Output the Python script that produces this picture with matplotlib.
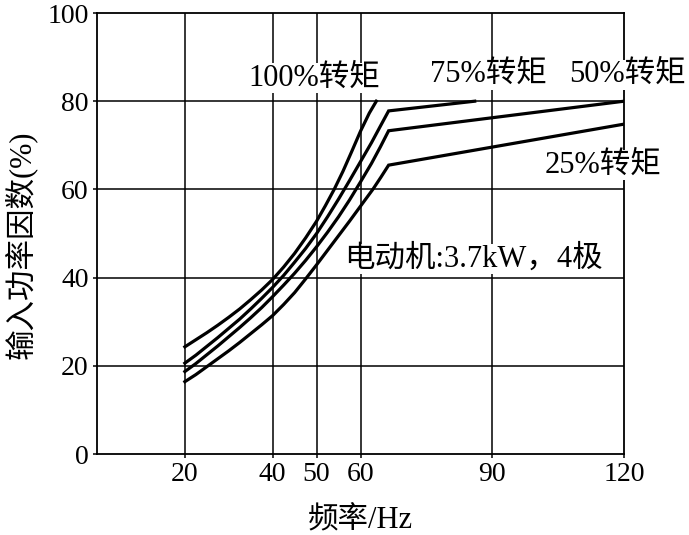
import matplotlib
matplotlib.use('Agg')
import matplotlib.pyplot as plt

plt.rcParams['font.family'] = ['Liberation Serif', 'Noto Sans CJK SC']
plt.rcParams['axes.unicode_minus'] = False

# data
freq_100 = [20, 22.5, 25, 27.5, 30, 32.5, 35, 37.5, 40, 42.5, 45, 47.5, 50,
            52, 54, 56, 58, 60, 62, 63.6]
pf_100 = [24.3, 25.9, 27.5, 29.2, 31.0, 32.9, 35.0, 37.2, 39.6, 42.4, 45.5,
          49.0, 52.8, 56.3, 60.0, 64.1, 68.6, 73.2, 77.3, 80.0]

freq_75 = [20, 22.5, 25, 27.5, 30, 32.5, 35, 37.5, 40, 42.5, 45, 47.5, 50,
           52.5, 55, 57.5, 60, 62.5, 64.5, 66.4, 86]
pf_75 = [20.6, 22.4, 24.4, 26.4, 28.5, 30.6, 32.9, 35.3, 37.8, 40.5, 43.5,
         46.6, 50.0, 53.8, 57.8, 62.0, 66.3, 70.6, 74.3, 77.8, 80.0]

freq_50 = [20, 22.5, 25, 27.5, 30, 32.5, 35, 37.5, 40, 42.5, 45, 47.5, 50,
           52.5, 55, 57.5, 60, 62.5, 64.5, 66.4, 120]
pf_50 = [18.7, 20.5, 22.5, 24.5, 26.6, 28.7, 30.9, 33.2, 35.7, 38.3, 41.0,
         43.9, 47.0, 50.3, 53.8, 57.6, 61.7, 65.9, 69.6, 73.3, 80.0]

freq_25 = [20, 22.5, 25, 27.5, 30, 32.5, 35, 37.5, 40, 42.5, 45, 47.5, 50,
           52.5, 55, 57.5, 60, 62.8, 64.6, 66.4, 120]
pf_25 = [16.4, 18.0, 19.8, 21.6, 23.4, 25.3, 27.3, 29.3, 31.4, 33.9, 36.6,
         39.7, 42.9, 46.2, 49.5, 52.8, 56.2, 60.0, 62.7, 65.5, 74.8]

x_ticks = [20, 40, 50, 60, 90, 120]
y_ticks = [0, 20, 40, 60, 80, 100]

fig = plt.figure(figsize=(6.89, 5.35), dpi=100)
ax = fig.add_axes([0.1408, 0.1514, 0.7649, 0.8243])

for f, p in [(freq_100, pf_100), (freq_75, pf_75), (freq_50, pf_50), (freq_25, pf_25)]:
    ax.plot(f, p, color='black', lw=2.3, solid_joinstyle='miter', zorder=3)

for x in x_ticks[:-1]:
    ax.axvline(x, color='black', lw=1.1, zorder=1)
for y in y_ticks[1:-1]:
    ax.axhline(y, color='black', lw=1.1, zorder=1)

ax.set_xlim(0, 120)
ax.set_ylim(0, 100)
ax.set_xticks(x_ticks)
ax.set_yticks(y_ticks)
ax.tick_params(labelsize=20, length=3, width=1.1, pad=3)
for s in ax.spines.values():
    s.set_linewidth(1.3)

ax.set_xlabel('频率/Hz', fontsize=22, labelpad=14)
fig.text(0.03, 1 - 245 / 535, '输入功率因数(%)', fontsize=22, rotation=90,
         ha='center', va='center')

box = dict(facecolor='white', edgecolor='none', pad=0.2)
lab = dict(fontsize=22, ha='center', va='center', bbox=box, zorder=4)
ax.text(49.5, 85.3, '100%转矩', **lab)
ax.text(89.2, 86.0, '75%转矩', **lab)
ax.text(120.7, 86.0, '50%转矩', clip_on=False, **lab)
ax.text(115.2, 65.5, '25%转矩', clip_on=False, **lab)
ax.text(85.6, 44.2, '电动机:3.7kW，4极', **lab)

fig.savefig('out.png', dpi=100)
